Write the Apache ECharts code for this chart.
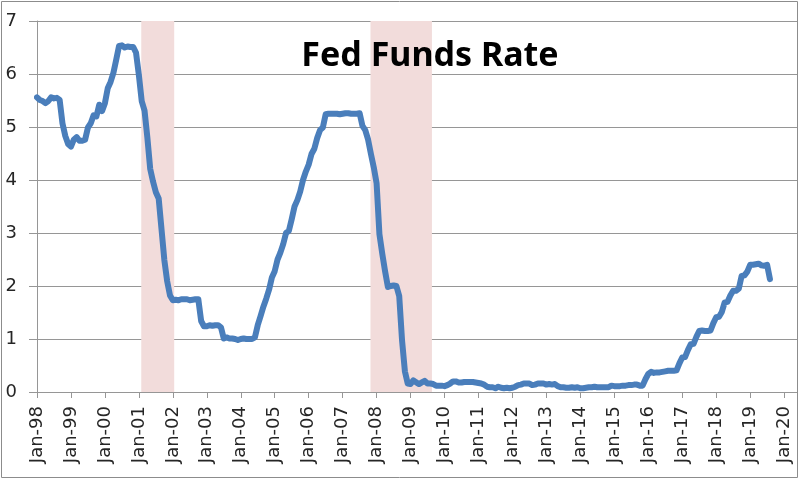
<!DOCTYPE html>
<html>
<head>
<meta charset="utf-8">
<script src="https://cdn.jsdelivr.net/npm/echarts@6/dist/echarts.min.js"></script>
<style>html,body{margin:0;padding:0;background:#fff}#c{width:800px;height:482px}</style>
</head>
<body>
<div id="c"></div>
<script>
// Monthly effective Fed Funds rate, starting Jan 1998
const startYear = 1998;
const rates = [
  5.56,5.51,5.49,5.45,5.49,5.56,5.54,5.55,5.51,5.07,4.83,4.68,
  4.63,4.76,4.81,4.74,4.74,4.76,4.99,5.07,5.22,5.20,5.42,5.30,
  5.45,5.73,5.85,6.02,6.27,6.53,6.54,6.50,6.52,6.51,6.51,6.40,
  5.98,5.49,5.31,4.80,4.21,3.97,3.77,3.65,3.07,2.49,2.09,1.82,
  1.73,1.74,1.73,1.75,1.75,1.75,1.73,1.74,1.75,1.75,1.34,1.24,
  1.24,1.26,1.25,1.26,1.26,1.22,1.01,1.03,1.01,1.01,1.00,0.98,
  1.00,1.01,1.00,1.00,1.00,1.03,1.26,1.43,1.61,1.76,1.93,2.16,
  2.28,2.50,2.63,2.79,3.00,3.04,3.26,3.50,3.62,3.78,4.00,4.16,
  4.29,4.49,4.59,4.79,4.94,4.99,5.24,5.25,5.25,5.25,5.25,5.24,
  5.25,5.26,5.26,5.25,5.25,5.25,5.26,5.02,4.94,4.76,4.49,4.24,
  3.94,2.98,2.61,2.28,1.98,2.00,2.01,2.00,1.81,0.97,0.39,0.16,
  0.15,0.22,0.18,0.15,0.18,0.21,0.16,0.16,0.15,0.12,0.12,0.12,
  0.11,0.13,0.16,0.20,0.20,0.18,0.18,0.19,0.19,0.19,0.19,0.18,
  0.17,0.16,0.14,0.10,0.09,0.09,0.07,0.10,0.08,0.07,0.08,0.07,
  0.08,0.10,0.13,0.14,0.16,0.16,0.16,0.13,0.14,0.16,0.16,0.16,
  0.14,0.15,0.14,0.15,0.11,0.09,0.09,0.08,0.08,0.09,0.08,0.09,
  0.07,0.07,0.08,0.09,0.09,0.10,0.09,0.09,0.09,0.09,0.09,0.12,
  0.11,0.11,0.11,0.12,0.12,0.13,0.13,0.14,0.14,0.12,0.12,0.24,
  0.34,0.38,0.36,0.37,0.37,0.38,0.39,0.40,0.40,0.40,0.41,0.54,
  0.65,0.66,0.79,0.90,0.91,1.04,1.15,1.16,1.15,1.15,1.16,1.30,
  1.41,1.42,1.51,1.69,1.70,1.82,1.91,1.91,1.95,2.19,2.20,2.27,
  2.40,2.40,2.41,2.42,2.39,2.38,2.40,2.13
];
// Recession shading spans (fractional years)
const recessions = [[2001.07, 2002.04], [2007.82, 2009.63]];
const xMin = 1998, xMax = 2020.38;
const yTicks = [0,1,2,3,4,5,6,7];
const title = 'Fed Funds Rate';

const data = rates.map((v, i) => [startYear + i / 12, v]);
const chart = echarts.init(document.getElementById('c'), null, {renderer: 'canvas'});
const labelColor = '#262626';
const gridColor = '#969696';
chart.setOption({
  animation: false,
  grid: {left: 37, right: 3, top: 21, bottom: 90},
  xAxis: {
    type: 'value', min: xMin, max: xMax, interval: 1,
    axisLine: {show: true, lineStyle: {color: gridColor, width: 1}},
    axisTick: {show: true, length: 6, lineStyle: {color: gridColor}},
    splitLine: {show: false},
    axisLabel: {
      rotate: 90, margin: 14, color: labelColor, fontSize: 18,
      fontFamily: 'DejaVu Sans',
      formatter: v => 'Jan-' + String(Math.round(v) % 100).padStart(2, '0'),
      showMaxLabel: false
    }
  },
  yAxis: {
    type: 'value', min: yTicks[0], max: yTicks[yTicks.length - 1], interval: 1,
    axisLine: {show: true, lineStyle: {color: gridColor, width: 1}},
    axisTick: {show: true, length: 8, lineStyle: {color: gridColor}},
    splitLine: {show: true, lineStyle: {color: gridColor, width: 1}},
    axisLabel: {margin: 20, color: labelColor, fontSize: 18, fontFamily: 'DejaVu Sans'}
  },
  series: [{
    type: 'line', data: data, showSymbol: false,
    lineStyle: {color: '#4a7ebb', width: 6, cap: 'round', join: 'round'},
    itemStyle: {color: '#4a7ebb'},
    markArea: {
      silent: true,
      itemStyle: {color: '#f2dcdb', opacity: 1},
      data: recessions.map(r => [{xAxis: r[0], yAxis: yTicks[0]}, {xAxis: r[1], yAxis: yTicks[yTicks.length - 1]}])
    },
    z: 3
  }],
  graphic: [
    {type: 'rect', shape: {x: 1.5, y: 1.5, width: 796, height: 476}, style: {fill: 'none', stroke: '#8c8c8c', lineWidth: 1}, silent: true, z: 100},
    {type: 'text', x: 430, y: 56, style: {text: title, fill: '#000', font: 'bold 34px "Noto Sans"', textAlign: 'center', textVerticalAlign: 'middle'}, z: 100}
  ]
});
</script>
</body>
</html>
